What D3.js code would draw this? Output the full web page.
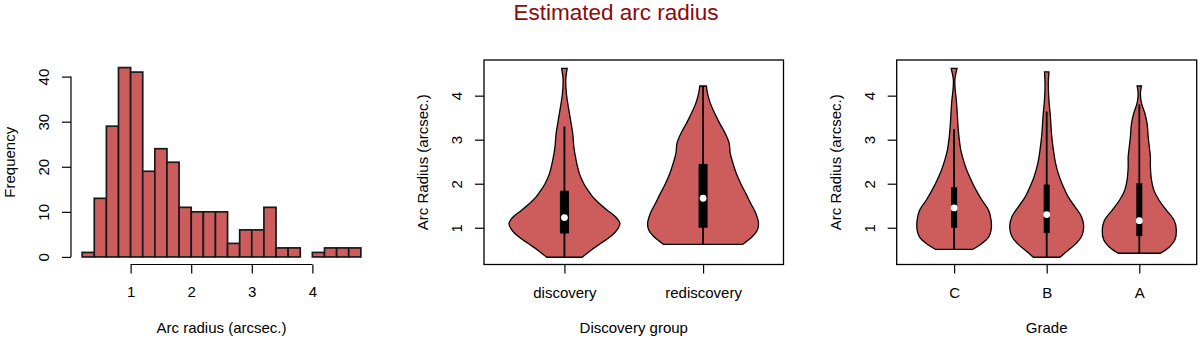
<!DOCTYPE html>
<meta charset="utf-8">
<style>
body { margin: 0; background: white; }
svg { display: block; font-family: "Liberation Sans", Arial, sans-serif; }
.tick text { font-size: 15px; fill: #000; font-family: "Liberation Sans", Arial, sans-serif; }
.tick line { stroke: #000; stroke-width: 1.2px; }
</style>
<body>
<svg width="1200" height="340"></svg>
<script src="https://d3js.org/d3.v7.min.js"></script>
<script>
// histogram: bins of 0.2 from 0.2 to 4.8
var binEdges = [0.2,0.4,0.6,0.8,1.0,1.2,1.4,1.6,1.8,2.0,2.2,2.4,2.6,2.8,3.0,3.2,3.4,3.6,3.8,4.0,4.2,4.4,4.6,4.8];
var binCounts = [1,13,29,42,41,19,24,21,11,10,10,10,3,6,6,11,2,2,0,1,2,2,2];
var histXTicks = [1,2,3,4];
var histYTicks = [0,10,20,30,40];

var discoveryGroups = ["discovery","rediscovery"];
var gradeGroups = ["C","B","A"];
var violinYTicks = [1,2,3,4];

// violin outlines: radius values and relative half-widths
var discoveryY = [0.33,0.49,0.64,0.80,0.95,1.10,1.25,1.40,1.55,1.70,1.86,2.0,2.23,2.54,2.84,3.14,3.45,3.75,4.05,4.36,4.62];
var discoveryW = [0.32,0.48,0.65,0.83,0.95,1.0,0.92,0.77,0.63,0.51,0.42,0.35,0.27,0.21,0.17,0.15,0.11,0.07,0.036,0.024,0.05];
var rediscoveryY = [0.62,0.80,0.95,1.10,1.33,1.55,1.78,2.0,2.23,2.46,2.69,2.92,3.14,3.37,3.60,3.83,4.05,4.22];
var rediscoveryW = [0.71,0.89,0.98,1.0,0.95,0.86,0.77,0.68,0.60,0.54,0.49,0.47,0.40,0.30,0.21,0.13,0.08,0.06];
var gradeCY = [0.51,0.64,0.80,0.95,1.17,1.40,1.63,1.86,2.08,2.31,2.54,2.77,3.07,3.37,3.67,3.90,4.13,4.36,4.62];
var gradeCW = [0.51,0.75,0.94,1.0,1.0,0.93,0.75,0.59,0.46,0.34,0.25,0.18,0.13,0.10,0.08,0.06,0.03,0.02,0.08];
var gradeBY = [0.33,0.49,0.64,0.80,1.02,1.25,1.48,1.70,1.93,2.16,2.46,2.77,3.14,3.52,3.90,4.27,4.54];
var gradeBW = [0.36,0.58,0.79,0.94,1.0,0.94,0.76,0.58,0.45,0.34,0.24,0.18,0.13,0.10,0.06,0.045,0.06];
var gradeAY = [0.42,0.57,0.72,0.95,1.17,1.40,1.63,1.86,2.08,2.39,2.61,2.84,3.07,3.37,3.60,3.83,4.05,4.22];
var gradeAW = [0.57,0.82,0.96,1.0,0.94,0.73,0.53,0.39,0.33,0.30,0.30,0.27,0.24,0.21,0.15,0.06,0.03,0.06];

// box stats: low whisker, q1, median, q3, high whisker
var discoveryStats = [[0.33,0.87,1.23,1.84,3.30],[0.62,1.0,1.67,2.45,4.22]];
var gradeStats = [[0.51,1.0,1.45,1.92,3.24],[0.33,0.88,1.30,1.98,3.64],[0.42,0.81,1.16,2.01,3.80]];

var fillCol = "#cd5c5c";
var svg = d3.select("svg");
var plotTop = 60, plotBottom = 264.5;

svg.append("text")
    .attr("x", 616).attr("y", 19.5)
    .attr("text-anchor", "middle")
    .style("font-size", "22.5px")
    .attr("fill", "#8b0a0a")
    .text("Estimated arc radius");

// ---- histogram ----
var hx = d3.scaleLinear().domain([0.016, 4.984]).range([71, 372]);
var hy = d3.scaleLinear().domain([-1.68, 43.68]).range([plotBottom, plotTop]);

svg.append("g").selectAll("rect")
    .data(binCounts)
    .enter().append("rect")
      .attr("x", function(d, i) { return hx(binEdges[i]); })
      .attr("width", function(d, i) { return hx(binEdges[i+1]) - hx(binEdges[i]); })
      .attr("y", function(d) { return hy(d); })
      .attr("height", function(d) { return hy(0) - hy(d); })
      .attr("fill", fillCol)
      .attr("stroke", "#1a1a1a")
      .attr("stroke-width", 1.7);

var hxAxis = svg.append("g")
    .attr("transform", "translate(0," + plotBottom + ")")
    .call(d3.axisBottom(hx).tickValues(histXTicks).tickSize(9).tickFormat(d3.format("d")));
hxAxis.select(".domain").remove();
hxAxis.selectAll(".tick text").attr("y", 32).attr("dy", 0);
hxAxis.append("line")
    .attr("x1", hx(1)).attr("x2", hx(4))
    .attr("stroke", "#000").attr("stroke-width", 1.2);

var hyAxis = svg.append("g")
    .attr("transform", "translate(71,0)")
    .call(d3.axisLeft(hy).tickValues(histYTicks).tickSize(9).tickFormat(d3.format("d")));
hyAxis.select(".domain").remove();
hyAxis.append("line")
    .attr("y1", hy(0)).attr("y2", hy(40))
    .attr("stroke", "#000").attr("stroke-width", 1.2);
hyAxis.selectAll(".tick text")
    .attr("x", 0).attr("dy", 0)
    .attr("text-anchor", "middle")
    .attr("transform", "translate(-22,0) rotate(-90)");

svg.append("text")
    .attr("transform", "translate(15," + (plotTop + plotBottom) / 2 + ") rotate(-90)")
    .attr("text-anchor", "middle")
    .style("font-size", "15px")
    .text("Frequency");
svg.append("text")
    .attr("x", (71 + 372) / 2).attr("y", 333)
    .attr("text-anchor", "middle")
    .style("font-size", "15px")
    .text("Arc radius (arcsec.)");

// ---- violins ----
var vy = d3.scaleLinear().domain([0.165, 4.81]).range([plotBottom, plotTop]);

function violinPanel(left, right, groups, shapesY, shapesW, stats, xTitle) {
  var n = groups.length;
  var pad = n * 0.04;
  var vx = d3.scaleLinear().domain([0.5 - pad, n + 0.5 + pad]).range([left, right]);
  var g = svg.append("g");

  groups.forEach(function(name, i) {
    var cx = vx(i + 1);
    var hw = vx(1.4) - vx(1);
    var pts = shapesY[i].map(function(v, j) { return [v, shapesW[i][j]]; });
    var area = d3.area()
        .curve(d3.curveCatmullRom)
        .y(function(d) { return vy(d[0]); })
        .x0(function(d) { return cx - d[1] * hw; })
        .x1(function(d) { return cx + d[1] * hw; });
    g.append("path")
        .attr("d", area(pts))
        .attr("fill", fillCol)
        .attr("stroke", "#000")
        .attr("stroke-width", 1.3);

    var s = stats[i];
    g.append("line")
        .attr("x1", cx).attr("x2", cx)
        .attr("y1", vy(s[0])).attr("y2", vy(s[4]))
        .attr("stroke", "#000").attr("stroke-width", 1.8);
    var bw = (vx(1.065) - vx(1));
    g.append("rect")
        .attr("x", cx - bw / 2).attr("width", bw)
        .attr("y", vy(s[3])).attr("height", vy(s[1]) - vy(s[3]))
        .attr("fill", "#000");
    g.append("circle")
        .attr("cx", cx).attr("cy", vy(s[2])).attr("r", 3.4)
        .attr("fill", "#fff");
  });

  g.append("rect")
      .attr("x", left).attr("y", plotTop)
      .attr("width", right - left).attr("height", plotBottom - plotTop)
      .attr("fill", "none").attr("stroke", "#000").attr("stroke-width", 1.3);

  var xa = g.append("g")
      .attr("transform", "translate(0," + plotBottom + ")")
      .call(d3.axisBottom(vx).tickValues(d3.range(1, n + 1)).tickSize(9)
        .tickFormat(function(d) { return groups[d - 1]; }));
  xa.select(".domain").remove();
  xa.selectAll(".tick text").attr("y", 33).attr("dy", 0);

  var ya = g.append("g")
      .attr("transform", "translate(" + left + ",0)")
      .call(d3.axisLeft(vy).tickValues(violinYTicks).tickSize(9).tickFormat(d3.format("d")));
  ya.select(".domain").remove();
  ya.selectAll(".tick text")
      .attr("x", 0).attr("dy", 0)
      .attr("text-anchor", "middle")
      .attr("transform", "translate(-22,0) rotate(-90)");

  g.append("text")
      .attr("transform", "translate(" + (left - 56) + "," + (plotTop + plotBottom) / 2 + ") rotate(-90)")
      .attr("text-anchor", "middle")
      .style("font-size", "15px")
      .text("Arc Radius (arcsec.)");
  g.append("text")
      .attr("x", (left + right) / 2).attr("y", 333)
      .attr("text-anchor", "middle")
      .style("font-size", "15px")
      .text(xTitle);
}

violinPanel(484, 783.5, discoveryGroups, [discoveryY, rediscoveryY], [discoveryW, rediscoveryW], discoveryStats, "Discovery group");
violinPanel(896.7, 1196.7, gradeGroups, [gradeCY, gradeBY, gradeAY], [gradeCW, gradeBW, gradeAW], gradeStats, "Grade");
</script>
</body>
